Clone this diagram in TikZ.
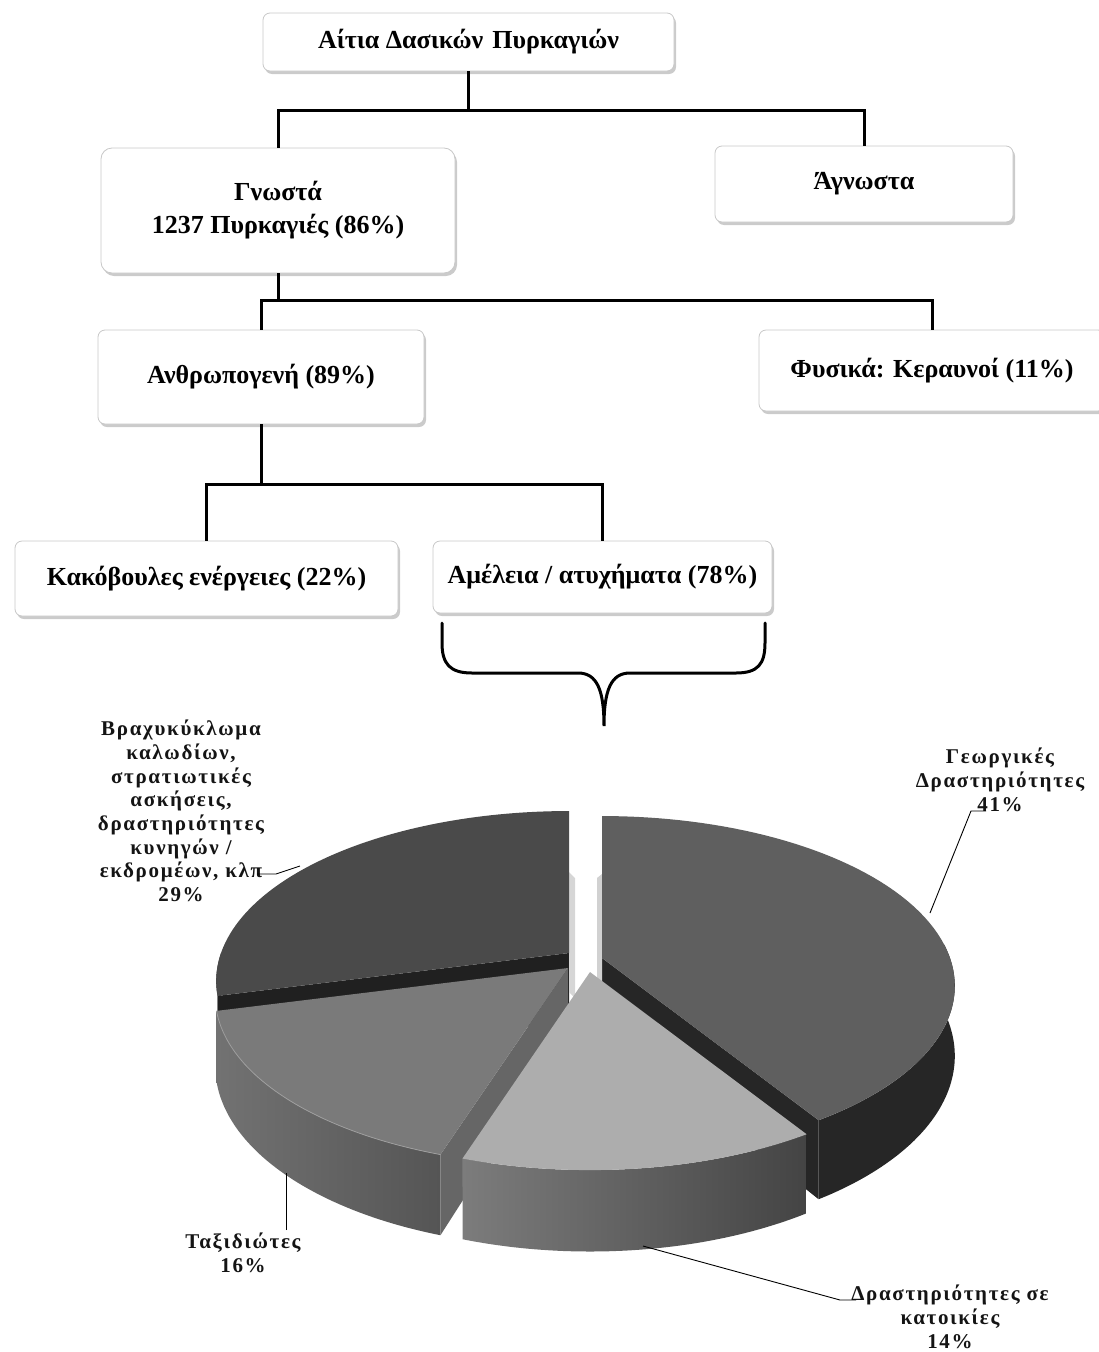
\documentclass[tikz,border=0pt]{standalone}
\usepackage{fontspec}
\setmainfont{Liberation Serif}
\newfontfamily\chartfont[LetterSpace=8]{Liberation Serif}
\usetikzlibrary{shadows,calc}
\definecolor{cBtop}{HTML}{4A4A4A}
\definecolor{cBcut}{HTML}{202020}
\definecolor{cBwall}{HTML}{3A3A3A}
\definecolor{cGtop}{HTML}{5F5F5F}
\definecolor{cGdark}{HTML}{262626}
\definecolor{cTtop}{HTML}{7A7A7A}
\definecolor{cTcut}{HTML}{666666}
\definecolor{cTwl}{HTML}{727272}
\definecolor{cTwr}{HTML}{555555}
\definecolor{cDtop}{HTML}{ADADAD}
\definecolor{cDwl}{HTML}{7C7C7C}
\definecolor{cDwr}{HTML}{444444}
\definecolor{boxline}{HTML}{C8C8C8}
\tikzset{
  declare function={
    pxf(\a)=348*cos(\a)/(1+0.165*sin(\a));
    pyf(\a)=-165.4*sin(\a)/(1+0.165*sin(\a));
    hf(\a)=68/(1+0.165*sin(\a));
  },
  box/.style={draw=boxline, line width=0.8pt, fill=white, rounded corners=7pt,
    align=center, inner sep=0pt,
    font=\bfseries\fontsize{26}{33}\selectfont,
    drop shadow={shadow xshift=2pt, shadow yshift=-3pt, opacity=0.45, fill=black!45}},
  conn/.style={line width=3pt, line join=miter},
  bracepath/.style={line width=3pt, line cap=round},
  lab/.style={font=\chartfont\bfseries\fontsize{21}{23.7}\selectfont, align=center,
    inner sep=0pt, text=black!92},
  leader/.style={line width=0.9pt},
}
\newcommand\slicetop[5]{\path[#5] (#1,#2) -- plot[domain=#3:#4, samples=70] ({#1+pxf(\x)},{#2+pyf(\x)}) -- cycle;}
\newcommand\slicewall[5]{\path[#5] plot[domain=#3:#4, samples=50] ({#1+pxf(\x)},{#2+pyf(\x)})
  -- plot[domain=0:1, samples=50] ({#1+pxf((#4)-(\x)*((#4)-(#3)))},{#2+pyf((#4)-(\x)*((#4)-(#3)))+hf((#4)-(\x)*((#4)-(#3)))}) -- cycle;}
\newcommand\cutface[4]{\path[#4] (#1,#2) -- ({#1+pxf(#3)},{#2+pyf(#3)}) -- ({#1+pxf(#3)},{#2+pyf(#3)+hf(#3)}) -- (#1,{#2+68}) -- cycle;}
\begin{document}
\begin{tikzpicture}[x=1pt,y=-1pt]
\useasboundingbox (0,0) rectangle (1099,1352);

% ---------- tree ----------
\node[box, minimum width=411pt, minimum height=58pt] (top) at (468.5,42) {Αίτια Δασικών\hspace{0.35em}Πυρκαγιών};
\node[box, rounded corners=11pt, minimum width=354pt, minimum height=125pt] (known) at (278,210.5) {Γνωστά\\1237 Πυρκαγιές (86\%)};
\node[box, minimum width=298pt, minimum height=76pt] (unknown) at (864,184) {Άγνωστα};
\node[box, minimum width=326pt, minimum height=94pt] (human) at (261,377) {Ανθρωπογενή (89\%)};
\node[box, minimum width=346pt, minimum height=81pt] (natural) at (932,370.5) {Φυσικά: Κεραυνοί (11\%)};
\node[box, minimum width=383pt, minimum height=75pt] (malicious) at (206.5,578.5) {Κακόβουλες ενέργειες (22\%)};
\node[box, minimum width=339pt, minimum height=72pt] (neglect) at (602.5,577) {Αμέλεια / ατυχήματα (78\%)};

\coordinate (j1) at (468.5,110);
\coordinate (j2) at (279,300);
\coordinate (j3) at (263,484);
\draw[conn] (top) -- (j1);
\draw[conn] (known) |- (j1) -| (unknown);
\draw[conn] (known) -- (known |- j2);
\draw[conn] (human) |- (j2) -| (natural);
\draw[conn] (human) -- (human |- j3);
\draw[conn] (malicious) |- (j3) -| (neglect);

% ---------- brace ----------
\coordinate (bl) at (442,623);
\coordinate (br) at (765,623);
\coordinate (btip) at (604,726);
\draw[bracepath] (bl) -- (442,643) .. controls (442,664) and (450,673) .. (472,673)
  -- (578,673) .. controls (597,673) and (604,690) .. (btip)
  .. controls (604,690) and (611,673) .. (630,673)
  -- (736,673) .. controls (758,673) and (765,664) .. (765,643) -- (br);

% ---------- pie ----------
% Brachykyklwma 29%
\slicewall{569}{953}{180}{194.4}{fill=cBwall}
\cutface{569}{953}{194.4}{fill=cBcut}
\fill[black!16] (569,872) -- (575,878) -- (575,998) -- (569,992) -- cycle;
\slicetop{569}{953}{90}{194.4}{fill=cBtop}
% Georgikes 41%
\slicewall{602}{958}{-57.6}{5}{fill=cGdark}
\cutface{602}{958}{-57.6}{fill=cGdark}
\fill[black!18] (597,878) -- (602,874) -- (602,982) -- (597,986) -- cycle;
\slicetop{602}{958}{-57.6}{90}{fill=cGtop}
% Taxidiotes 16%
\slicewall{568}{968}{-165.6}{-108}{left color=cTwl, right color=cTwr}
\cutface{568}{968}{-108}{fill=cTcut}
\slicetop{568}{968}{-165.6}{-108}{fill=cTtop}
\draw[black!38, line width=0.8pt] plot[domain=-165.6:-108, samples=50] ({568+pxf(\x)},{968+pyf(\x)});
% Drastiriotites se katoikies 14%
\slicewall{590}{972}{-108}{-57.6}{left color=cDwl, right color=cDwr}
\slicetop{590}{972}{-108}{-57.6}{fill=cDtop}

% ---------- labels ----------
\node[lab] (labB) at (181,811) {Βραχυκύκλωμα\\καλωδίων,\\στρατιωτικές\\ασκήσεις,\\δραστηριότητες\\κυνηγών /\\εκδρομέων, κλπ\\29\%};
\node[lab] (labG) at (1000,780) {Γεωργικές\\Δραστηριότητες\\41\%};
\node[lab] (labT) at (243,1253) {Ταξιδιώτες\\16\%};
\node[lab] (labD) at (950,1317) {Δραστηριότητες σε\\κατοικίες\\14\%};

\coordinate (pB) at (300,866);
\coordinate (pG) at (930,913);
\coordinate (pT) at (286,1173);
\coordinate (pD) at (643,1246);
\draw[leader] (257,874) -- (276,874) -- (pB);
\draw[leader] (986,811) -- (971,811) -- (pG);
\draw[leader] (286,1230) -- (pT);
\draw[leader] (856,1300) -- (840,1300) -- (pD);
\end{tikzpicture}
\end{document}
